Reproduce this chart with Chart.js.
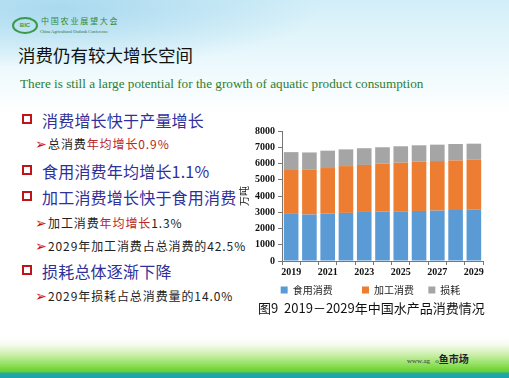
<!DOCTYPE html>
<html>
<head>
<meta charset="utf-8">
<script src="https://cdn.jsdelivr.net/npm/chart.js@4"></script>
<style>
  html, body { margin: 0; padding: 0; }
  body {
    width: 509px; height: 378px; position: relative; overflow: hidden;
    font-family: "Noto Sans CJK SC", "Noto Sans", sans-serif;
    background:
      linear-gradient(to bottom, rgba(255,255,255,0) 0, rgba(255,255,255,0) 338px, #f4fbec 345px, #c9efa8 355px, #8fe05a 365px, #62cf2e 372px, #23a9a8 373px, #1aa3ad 378px),
      radial-gradient(ellipse 260px 60px at 60px 8px, #a9d9ef 0, rgba(200,235,248,0) 100%),
      linear-gradient(to bottom, #d2eef8 0, #e4f6fb 45px, #f6fcfe 90px, #ffffff 115px, #ffffff 100%);
  }
  .abs { position: absolute; white-space: nowrap; }
  .logo {
    left: 12px; top: 17px; width: 22px; height: 13px;
    border: 2px solid #3c9a4a; border-radius: 50%;
    font: bold 6px "Liberation Sans", sans-serif; color: #3c9a4a;
    text-align: center; line-height: 13px;
  }
  .org { left: 41px; top: 16px; font-size: 8px; letter-spacing: 1.8px; color: #2f8a3c; line-height: 10px; }
  .org-en { left: 40px; top: 29px; font: 4.3px "Liberation Serif", serif; color: #2f6a3c; line-height: 6px; }
  .title { left: 18px; top: 43px; font-size: 17.5px; color: #111; line-height: 24px; }
  .subtitle { left: 20px; top: 75px; font: 13.2px "Liberation Serif", serif; color: #2e7d2e; line-height: 18px; }
  .box { width: 6px; height: 6px; border: 2.5px solid #c0141c; }
  .main { font-size: 16px; color: #30309a; line-height: 20px; letter-spacing: 0.2px; }
  .sub { font-size: 12px; color: #222; line-height: 16px; letter-spacing: 0.9px; }
  .sub .arr { color: #cc1010; font-size: 14px; margin-right: 1px; letter-spacing: 0; }
  .sub .red { color: #b8262a; }
  .caption { left: 258px; top: 299px; font-size: 13px; color: #111; line-height: 18px; }
  .wm { left: 407px; top: 351px; font: 7px "Liberation Serif", serif; color: #334; line-height: 12px; }
  .wm b { font: bold 10px "Noto Sans CJK SC", sans-serif; color: #223; }
  #chartBox { position: absolute; left: 232px; top: 122px; }
</style>
</head>
<body>
<div class="abs logo">BIC</div>
<div class="abs org">中国农业展望大会</div>
<div class="abs org-en">China Agricultural Outlook Conference</div>
<div class="abs title">消费仍有较大增长空间</div>
<div class="abs subtitle">There is still a large potential for the growth of aquatic product consumption</div>

<div class="abs box" style="left:22px; top:114px;"></div>
<div class="abs main" style="left:42px; top:110px;">消费增长快于产量增长</div>
<div class="abs sub" style="left:35px; top:135px;"><span class="arr">➢</span>总消费<span class="red">年均增长0.9%</span></div>

<div class="abs box" style="left:22px; top:165px;"></div>
<div class="abs main" style="left:42px; top:161px;">食用消费年均增长1.1%</div>

<div class="abs box" style="left:22px; top:191px;"></div>
<div class="abs main" style="left:42px; top:187px;">加工消费增长快于食用消费</div>
<div class="abs sub" style="left:35px; top:214px;"><span class="arr">➢</span>加工消费<span class="red">年均增长</span>1.3%</div>
<div class="abs sub" style="left:35px; top:237px;"><span class="arr">➢</span>2029年加工消费占总消费的42.5%</div>

<div class="abs box" style="left:22px; top:265px;"></div>
<div class="abs main" style="left:42px; top:261px;">损耗总体逐渐下降</div>
<div class="abs sub" style="left:35px; top:287px;"><span class="arr">➢</span>2029年损耗占总消费量的14.0%</div>

<div id="chartBox"><canvas id="chart" width="270" height="185"></canvas></div>
<div class="abs caption">图9&nbsp;&nbsp;2019－2029年中国水产品消费情况</div>
<div class="abs wm">www.ag&nbsp;&nbsp;&nbsp;o<b>鱼市场</b></div>

<script>
// chart data (万吨)
const years = ["2019", "2020", "2021", "2022", "2023", "2024", "2025", "2026", "2027", "2028", "2029"];
const foodUse = [2900, 2860, 2920, 2960, 3020, 3040, 3060, 3080, 3100, 3140, 3180];
const processingUse = [2750, 2750, 2800, 2880, 2890, 2950, 2990, 3030, 3050, 3050, 3050];
const lossUse = [1050, 1070, 1070, 1030, 1030, 1010, 1010, 1010, 1010, 1010, 990];
const seriesNames = ["食用消费", "加工消费", "损耗"];
const yMin = 0, yMax = 8000, yStep = 1000;
const yTitle = "万吨";

const colors = ["#5b9bd5", "#ed7d31", "#a5a5a5"];
// extra room after each legend entry so the spacing looks like the slide
const legendGap = ["\u2002\u2002\u2002\u2002\u2004", "\u2002\u2004", "\u2002\u2002\u2004\u2004"];

const tickFont = { family: "Liberation Serif", size: 10, weight: "bold" };

const ctx = document.getElementById("chart").getContext("2d");
new Chart(ctx, {
    type: "bar",
    data: {
        labels: years,
        datasets: [foodUse, processingUse, lossUse].map((vals, i) => ({
            label: seriesNames[i],
            data: vals,
            backgroundColor: colors[i],
            borderWidth: 0,
            categoryPercentage: 1,
            barPercentage: 0.8
        }))
    },
    options: {
        responsive: false,
        animation: false,
        devicePixelRatio: 1,
        layout: { padding: { left: 6, top: 4, right: 19, bottom: 2 } },
        plugins: {
            tooltip: { enabled: false },
            legend: {
                position: "bottom",
                align: "end",
                labels: {
                    boxWidth: 7,
                    boxHeight: 7,
                    padding: 6,
                    color: "#222",
                    font: { family: "Noto Sans CJK SC", size: 10 },
                    generateLabels(chart) {
                        return Chart.defaults.plugins.legend.labels.generateLabels(chart)
                            .map((item, i) => ({ ...item, text: item.text + legendGap[i] }));
                    }
                }
            }
        },
        scales: {
            x: {
                stacked: true,
                grid: { drawOnChartArea: false, tickLength: 4, color: "#777" },
                border: { color: "#777" },
                ticks: {
                    autoSkip: false,
                    maxRotation: 0,
                    padding: 1,
                    color: "#111",
                    font: tickFont,
                    callback: (v, i) => (i % 2 === 0 ? years[i] : "")
                }
            },
            y: {
                stacked: true,
                min: yMin,
                max: yMax,
                title: {
                    display: true,
                    text: yTitle,
                    color: "#222",
                    font: { family: "Noto Sans CJK SC", size: 10 },
                    padding: { top: 0, bottom: 2 }
                },
                grid: { drawOnChartArea: false, tickLength: 4, color: "#777" },
                border: { color: "#777" },
                ticks: {
                    stepSize: yStep,
                    padding: 3,
                    color: "#111",
                    font: tickFont,
                    callback: v => String(v)
                }
            }
        }
    }
});
</script>
</body>
</html>
